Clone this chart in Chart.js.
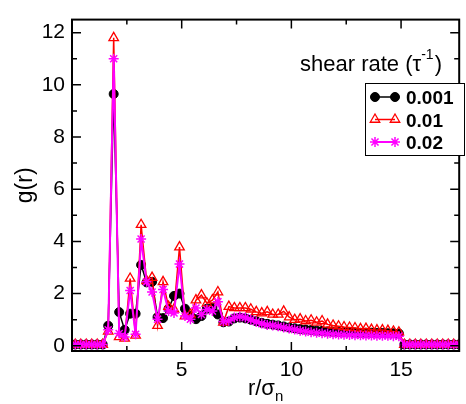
<!DOCTYPE html>
<html>
<head>
<meta charset="utf-8">
<script src="https://cdn.jsdelivr.net/npm/chart.js@4.4.1/dist/chart.umd.min.js"></script>
<style>
  html, body { margin: 0; padding: 0; background: #fff; }
  canvas { display: block; }
</style>
</head>
<body>
<canvas id="gr" width="466" height="404"></canvas>
<script>
// r / sigma_n sample positions
const rValues = [
  0.15, 0.4, 0.65, 0.9, 1.15, 1.4, 1.65, 1.9, 2.15, 2.4,
  2.65, 2.9, 3.15, 3.4, 3.65, 3.9, 4.15, 4.4, 4.65, 4.9,
  5.15, 5.4, 5.65, 5.9, 6.15, 6.4, 6.65, 6.9, 7.15, 7.4,
  7.65, 7.9, 8.15, 8.4, 8.65, 8.9, 9.15, 9.4, 9.65, 9.9,
  10.15, 10.4, 10.65, 10.9, 11.15, 11.4, 11.65, 11.9, 12.15, 12.4,
  12.65, 12.9, 13.15, 13.4, 13.65, 13.9, 14.15, 14.4, 14.65, 14.9,
  15.15, 15.4, 15.65, 15.9, 16.15, 16.4, 16.65, 16.9, 17.15, 17.4, 17.65
];

// g(r), shear rate 0.001
const gRate001 = [
  0.05, 0.05, 0.05, 0.05, 0.05, 0.05, 0.77, 9.65, 1.29, 0.61,
  1.23, 1.23, 3.1, 2.43, 2.45, 1.1, 1.06, 1.42, 1.91, 2.0,
  1.42, 1.14, 1.02, 1.14, 1.42, 1.45, 1.2, 0.9, 0.93, 1.05,
  1.08, 1.05, 1.0, 0.94, 0.88, 0.84, 0.81, 0.78, 0.74, 0.7,
  0.67, 0.64, 0.62, 0.6, 0.58, 0.57, 0.55, 0.54, 0.53, 0.52,
  0.52, 0.51, 0.5, 0.5, 0.5, 0.49, 0.49, 0.48, 0.48, 0.47,
  0.05, 0.05, 0.05, 0.05, 0.05, 0.05, 0.05, 0.05, 0.05, 0.05, 0.05
];

// g(r), shear rate 0.01
const gRate01 = [
  0.05, 0.05, 0.05, 0.05, 0.05, 0.05, 0.55, 11.8, 0.34, 0.28,
  2.58, 0.4, 4.64, 2.49, 2.61, 0.77, 2.45, 1.5, 1.4, 3.78,
  1.14, 1.2, 1.75, 1.94, 1.63, 1.75, 2.06, 0.9, 1.5, 1.45,
  1.45, 1.45, 1.4, 1.3, 1.25, 1.3, 1.2, 1.2, 1.32, 1.1,
  1.0, 1.02, 0.95, 0.98, 0.9, 0.95, 0.82, 0.78, 0.75, 0.72,
  0.7, 0.68, 0.65, 0.66, 0.62, 0.6, 0.6, 0.58, 0.55, 0.52,
  0.05, 0.05, 0.05, 0.05, 0.05, 0.05, 0.05, 0.05, 0.05, 0.05, 0.05
];

// g(r), shear rate 0.02
const gRate02 = [
  0.05, 0.05, 0.05, 0.05, 0.05, 0.05, 0.61, 11.0, 0.47, 0.34,
  2.12, 0.44, 4.09, 2.45, 2.06, 1.02, 2.16, 1.33, 1.26, 3.13,
  1.14, 1.02, 1.45, 1.2, 1.39, 1.33, 1.69, 0.93, 0.96, 1.08,
  1.12, 1.08, 1.0, 0.92, 0.85, 0.8, 0.78, 0.75, 0.7, 0.66,
  0.62, 0.58, 0.55, 0.52, 0.5, 0.48, 0.46, 0.44, 0.43, 0.42,
  0.41, 0.4, 0.4, 0.39, 0.39, 0.38, 0.38, 0.38, 0.37, 0.37,
  0.05, 0.05, 0.05, 0.05, 0.05, 0.05, 0.05, 0.05, 0.05, 0.05, 0.05
];

const seriesLabels = ['0.001', '0.01', '0.02'];
const xMajorTicks = [5, 10, 15];
const xMinorTicks = [2.5, 7.5, 12.5];
const yMajorTicks = [0, 2, 4, 6, 8, 10, 12];
const yMinorTicks = [1, 3, 5, 7, 9, 11];

const FONT = "'Liberation Sans', Arial, Helvetica, sans-serif";
Chart.defaults.font.family = FONT;
Chart.defaults.color = '#000';

const toPoints = ys => ys.map((y, i) => ({ x: rValues[i], y: y }));

// frame with inward ticks on all four sides
const framePlugin = {
  id: 'frame',
  afterDatasetsDraw(chart) {
    const { ctx, chartArea: a, scales: { x, y } } = chart;
    ctx.save();
    ctx.strokeStyle = '#000';
    ctx.lineWidth = 1.5;
    ctx.beginPath();
    const tick = (x0, y0, x1, y1) => { ctx.moveTo(x0, y0); ctx.lineTo(x1, y1); };
    xMajorTicks.forEach(v => {
      const px = x.getPixelForValue(v);
      tick(px, a.bottom, px, a.bottom - 9);
      tick(px, a.top, px, a.top + 9);
    });
    xMinorTicks.forEach(v => {
      const px = x.getPixelForValue(v);
      tick(px, a.bottom, px, a.bottom - 5);
      tick(px, a.top, px, a.top + 5);
    });
    yMajorTicks.forEach(v => {
      const py = y.getPixelForValue(v);
      tick(a.left, py, a.left + 9, py);
      tick(a.right, py, a.right - 9, py);
    });
    yMinorTicks.forEach(v => {
      const py = y.getPixelForValue(v);
      tick(a.left, py, a.left + 5, py);
      tick(a.right, py, a.right - 5, py);
    });
    ctx.stroke();
    ctx.lineWidth = 2;
    ctx.strokeRect(a.left, a.top, a.right - a.left, a.bottom - a.top);
    ctx.restore();
  }
};

// x title with subscript, legend title with superscript, legend box
const labelsPlugin = {
  id: 'labels',
  afterDraw(chart) {
    const { ctx, chartArea: a } = chart;
    ctx.save();
    ctx.fillStyle = '#000';
    ctx.textBaseline = 'alphabetic';

    // r/σn
    ctx.font = '22px ' + FONT;
    const mainW = ctx.measureText('r/σ').width;
    ctx.font = '15px ' + FONT;
    const subW = ctx.measureText('n').width;
    let tx = (a.left + a.right) / 2 - (mainW + subW) / 2;
    ctx.font = '22px ' + FONT;
    ctx.fillText('r/σ', tx, 395);
    ctx.font = '15px ' + FONT;
    ctx.fillText('n', tx + mainW, 401);

    // shear rate (τ-1)
    let lx = 300;
    ctx.font = '22px ' + FONT;
    ctx.fillText('shear rate (τ', lx, 71);
    lx += ctx.measureText('shear rate (τ').width;
    ctx.font = '14px ' + FONT;
    ctx.fillText('-1', lx, 59);
    lx += ctx.measureText('-1').width + 1;
    ctx.font = '22px ' + FONT;
    ctx.fillText(')', lx, 71);

    // legend box
    const bx = 365, by = 83, bw = 100, bh = 73;
    ctx.fillStyle = '#fff';
    ctx.fillRect(bx, by, bw, bh);
    ctx.strokeStyle = '#000';
    ctx.lineWidth = 1;
    ctx.strokeRect(bx + 0.5, by + 0.5, bw - 1, bh - 1);

    chart.data.datasets.forEach((ds, i) => {
      const ry = 97 + i * 22.5;
      ctx.strokeStyle = ds.borderColor;
      ctx.lineWidth = ds.borderWidth;
      ctx.beginPath();
      ctx.moveTo(375, ry);
      ctx.lineTo(395, ry);
      ctx.stroke();
      [375, 395].forEach(mx => {
        ctx.fillStyle = ds.pointBackgroundColor;
        ctx.strokeStyle = ds.pointBorderColor;
        ctx.lineWidth = ds.pointBorderWidth;
        Chart.helpers.drawPoint(ctx, {
          pointStyle: ds.pointStyle,
          radius: ds.pointRadius,
          rotation: 0,
          borderWidth: ds.pointBorderWidth
        }, mx, ry);
      });
      ctx.fillStyle = '#000';
      ctx.font = 'bold 19px ' + FONT;
      ctx.fillText(ds.label, 406, ry + 7);
    });
    ctx.restore();
  }
};

new Chart(document.getElementById('gr'), {
  type: 'line',
  data: {
    datasets: [
      {
        label: seriesLabels[0],
        data: toPoints(gRate001),
        borderColor: '#000000',
        borderWidth: 1.5,
        pointStyle: 'circle',
        pointRadius: 4.5,
        pointBackgroundColor: '#000000',
        pointBorderColor: '#000000',
        pointBorderWidth: 1,
        order: 3
      },
      {
        label: seriesLabels[1],
        data: toPoints(gRate01),
        borderColor: '#ff0000',
        borderWidth: 1.5,
        pointStyle: 'triangle',
        pointRadius: 5.5,
        pointBackgroundColor: 'rgba(0,0,0,0)',
        pointBorderColor: '#ff0000',
        pointBorderWidth: 1.3,
        order: 2
      },
      {
        label: seriesLabels[2],
        data: toPoints(gRate02),
        borderColor: '#ff00ff',
        borderWidth: 2,
        pointStyle: 'star',
        pointRadius: 5,
        pointBackgroundColor: '#ff00ff',
        pointBorderColor: '#ff00ff',
        pointBorderWidth: 1.5,
        order: 1
      }
    ]
  },
  options: {
    responsive: false,
    animation: false,
    layout: { padding: { top: 8, right: 3, left: 0, bottom: 0 } },
    plugins: {
      legend: { display: false },
      tooltip: { enabled: false }
    },
    scales: {
      x: {
        type: 'linear',
        min: 0,
        max: 17.65,
        afterFit: s => { s.height = 53; },
        grid: { display: false, drawTicks: false },
        border: { display: false },
        ticks: {
          stepSize: 5,
          includeBounds: false,
          padding: 7,
          font: { size: 21 },
          color: '#000',
          maxRotation: 0,
          callback: v => (v === 0 ? '' : v)
        }
      },
      y: {
        min: -0.2,
        max: 12.5,
        afterFit: s => { s.width = 72; },
        grid: { display: false, drawTicks: false },
        border: { display: false },
        ticks: {
          stepSize: 2,
          includeBounds: false,
          padding: 7,
          font: { size: 21 },
          color: '#000'
        },
        title: {
          display: true,
          text: 'g(r)',
          font: { size: 23 },
          color: '#000',
          padding: { top: 12, bottom: 0 }
        }
      }
    }
  },
  plugins: [framePlugin, labelsPlugin]
});
</script>
</body>
</html>
